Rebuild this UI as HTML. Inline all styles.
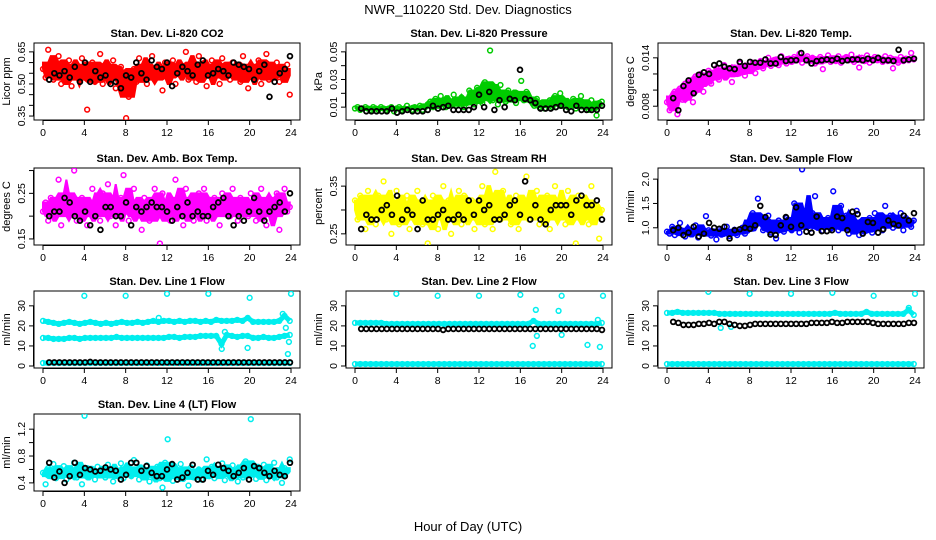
<!DOCTYPE html>
<html><head><meta charset="utf-8"><style>
html,body{margin:0;padding:0;background:#fff;}
svg{display:block;font-family:"Liberation Sans",Arial,sans-serif;}
</style></head><body>
<svg id="chart" width="936" height="540" viewBox="0 0 936 540" xmlns="http://www.w3.org/2000/svg">
<text x="468" y="14" font-size="13" text-anchor="middle">NWR_110220  Std. Dev. Diagnostics</text>
<text x="468" y="531" font-size="13" text-anchor="middle">Hour of Day (UTC)</text>
</svg>
<script>
// ---- data ----
const xTicks=[0,4,8,12,16,20,24];
const co2Color=[0.57,0.53,0.66,0.60,0.52,0.55,0.63,0.50,0.58,0.54,0.61,0.49,0.56,0.59,0.52,0.62,0.55,0.38,0.53,0.60,0.51,0.57,0.64,0.50,0.55,0.59,0.52,0.61,0.48,0.56,0.58,0.53,0.34,0.44,0.55,0.57,0.51,0.62,0.54,0.59,0.50,0.56,0.63,0.52,0.58,0.55,0.47,0.60,0.53,0.57,0.61,0.50,0.56,0.59,0.54,0.65,0.52,0.57,0.60,0.51,0.63,0.55,0.58,0.49,0.56,0.61,0.53,0.59,0.50,0.62,0.55,0.57,0.52,0.60,0.54,0.58,0.51,0.63,0.56,0.48,0.59,0.53,0.57,0.61,0.50,0.55,0.64,0.52,0.58,0.56,0.60,0.51,0.57,0.54,0.59,0.45];
const co2Black=[0.52,0.55,0.54,0.56,0.53,0.58,0.51,0.60,0.51,0.56,0.53,0.54,0.50,0.51,0.48,0.54,0.53,0.60,0.55,0.52,0.61,0.58,0.57,0.60,0.49,0.55,0.58,0.56,0.54,0.59,0.61,0.54,0.55,0.57,0.56,0.54,0.60,0.59,0.58,0.57,0.52,0.56,0.59,0.44,0.51,0.55,0.57,0.63];
const presColor=[0.009,0.010,0.008,0.009,0.010,0.009,0.008,0.010,0.009,0.008,0.010,0.009,0.008,0.009,0.010,0.007,0.009,0.010,0.008,0.009,0.011,0.009,0.008,0.010,0.009,0.011,0.008,0.010,0.012,0.014,0.010,0.016,0.011,0.018,0.013,0.010,0.015,0.012,0.019,0.011,0.014,0.017,0.010,0.013,0.022,0.015,0.012,0.024,0.017,0.013,0.028,0.019,0.051,0.015,0.021,0.012,0.026,0.018,0.014,0.022,0.016,0.020,0.013,0.019,0.029,0.015,0.021,0.017,0.014,0.011,0.016,0.010,0.013,0.009,0.012,0.015,0.010,0.018,0.013,0.020,0.011,0.014,0.010,0.012,0.016,0.009,0.011,0.018,0.013,0.010,0.008,0.015,0.011,0.004,0.013,0.014];
const presBlack=[0.009,0.007,0.007,0.007,0.007,0.007,0.009,0.006,0.007,0.008,0.007,0.007,0.007,0.008,0.011,0.009,0.010,0.011,0.008,0.008,0.008,0.008,0.010,0.019,0.010,0.021,0.008,0.015,0.010,0.016,0.015,0.037,0.016,0.015,0.013,0.009,0.009,0.009,0.010,0.011,0.008,0.007,0.011,0.008,0.008,0.008,0.008,0.011];
const tempColor=[0.0085,0.0075,0.0092,0.0098,0.0070,0.0102,0.0088,0.0108,0.0095,0.0112,0.0085,0.0117,0.0105,0.0120,0.0098,0.0115,0.0124,0.0108,0.0121,0.0127,0.0113,0.0122,0.0131,0.0117,0.0125,0.0110,0.0128,0.0120,0.0133,0.0125,0.0118,0.0130,0.0126,0.0134,0.0121,0.0129,0.0136,0.0127,0.0132,0.0140,0.0130,0.0135,0.0138,0.0131,0.0142,0.0136,0.0133,0.0139,0.0135,0.0141,0.0137,0.0145,0.0134,0.0139,0.0142,0.0136,0.0140,0.0133,0.0138,0.0141,0.0126,0.0137,0.0143,0.0135,0.0139,0.0136,0.0142,0.0134,0.0138,0.0141,0.0137,0.0144,0.0135,0.0139,0.0128,0.0140,0.0136,0.0143,0.0134,0.0138,0.0141,0.0137,0.0139,0.0135,0.0142,0.0136,0.0140,0.0127,0.0138,0.0134,0.0141,0.0136,0.0139,0.0137,0.0146,0.0138];
const tempBlack=[0.0090,0.0075,0.0105,0.0112,0.0096,0.0119,0.0122,0.0120,0.0131,0.0133,0.0129,0.0127,0.0126,0.0135,0.0130,0.0135,0.0134,0.0134,0.0138,0.0133,0.0133,0.0141,0.0136,0.0137,0.0137,0.0146,0.0137,0.0133,0.0136,0.0137,0.0138,0.0137,0.0139,0.0136,0.0137,0.0138,0.0138,0.0137,0.0139,0.0137,0.0140,0.0137,0.0137,0.0136,0.0150,0.0137,0.0138,0.0139];
const ambColor=[0.21,0.23,0.19,0.24,0.20,0.22,0.28,0.18,0.22,0.25,0.20,0.23,0.30,0.19,0.21,0.24,0.22,0.18,0.23,0.26,0.20,0.22,0.19,0.25,0.21,0.27,0.20,0.23,0.18,0.22,0.24,0.29,0.21,0.19,0.23,0.26,0.20,0.22,0.17,0.24,0.21,0.19,0.23,0.26,0.22,0.14,0.25,0.20,0.23,0.19,0.22,0.28,0.21,0.24,0.18,0.26,0.20,0.23,0.19,0.22,0.25,0.21,0.26,0.19,0.23,0.20,0.24,0.22,0.18,0.25,0.21,0.23,0.20,0.26,0.22,0.19,0.24,0.21,0.23,0.20,0.25,0.22,0.19,0.23,0.26,0.21,0.18,0.24,0.22,0.20,0.25,0.17,0.23,0.26,0.21,0.22];
const ambBlack=[0.20,0.21,0.21,0.24,0.23,0.20,0.19,0.21,0.18,0.20,0.17,0.22,0.22,0.20,0.20,0.23,0.18,0.22,0.21,0.22,0.23,0.22,0.22,0.21,0.19,0.22,0.20,0.23,0.20,0.21,0.20,0.20,0.22,0.23,0.24,0.20,0.18,0.20,0.19,0.21,0.24,0.21,0.19,0.21,0.22,0.23,0.21,0.25];
const rhColor=[0.32,0.28,0.33,0.30,0.26,0.34,0.29,0.31,0.27,0.33,0.30,0.36,0.28,0.32,0.25,0.30,0.34,0.27,0.31,0.29,0.33,0.26,0.31,0.28,0.34,0.30,0.27,0.32,0.23,0.29,0.33,0.31,0.26,0.30,0.35,0.28,0.32,0.25,0.31,0.29,0.34,0.27,0.33,0.30,0.28,0.32,0.26,0.31,0.29,0.35,0.27,0.33,0.30,0.26,0.38,0.31,0.28,0.34,0.29,0.32,0.27,0.30,0.33,0.26,0.31,0.29,0.37,0.28,0.32,0.30,0.34,0.27,0.31,0.29,0.33,0.26,0.30,0.35,0.28,0.32,0.30,0.27,0.34,0.29,0.31,0.23,0.33,0.28,0.30,0.32,0.27,0.35,0.29,0.31,0.24,0.30];
const rhBlack=[0.26,0.29,0.28,0.28,0.30,0.31,0.29,0.33,0.28,0.30,0.29,0.26,0.32,0.28,0.28,0.29,0.30,0.28,0.28,0.29,0.28,0.32,0.29,0.32,0.30,0.31,0.28,0.28,0.29,0.31,0.32,0.29,0.36,0.28,0.31,0.28,0.27,0.30,0.31,0.31,0.31,0.29,0.32,0.33,0.31,0.31,0.32,0.28];
const flowColor=[0.92,0.88,1.02,0.85,0.96,1.10,0.90,0.82,0.98,0.87,0.94,1.05,0.80,0.91,0.88,1.24,0.95,0.84,0.90,0.76,0.97,0.86,0.93,1.02,0.83,0.89,0.96,0.85,0.92,1.00,0.88,0.94,1.15,1.30,1.05,1.60,1.20,0.95,1.10,1.25,0.90,1.05,0.78,1.15,1.00,0.92,1.20,1.08,0.95,1.50,1.10,0.90,2.20,1.05,1.15,0.98,1.30,1.65,1.00,1.12,0.94,1.08,1.20,0.98,1.75,1.10,0.95,1.45,1.05,1.25,0.88,1.15,0.98,1.35,0.85,1.10,0.92,1.05,1.20,0.90,1.30,1.02,1.15,0.95,1.45,1.10,1.25,1.00,1.18,1.05,1.30,0.95,1.20,1.10,1.02,1.15];
const flowBlack=[0.95,1.00,0.85,0.90,1.02,0.82,0.88,1.10,1.00,0.98,1.02,0.78,0.95,0.97,1.00,0.98,1.05,1.45,1.22,0.86,0.85,1.05,1.22,1.02,1.42,1.05,0.92,0.90,1.23,0.93,0.93,0.95,1.23,1.20,0.95,1.33,1.28,0.88,1.12,1.10,0.90,0.97,1.15,1.08,1.05,1.25,1.15,1.30];
const line1Upper=[22.5,22,21.5,21,21.5,22,21.5,21,21.5,22,21.5,21,21.5,21,21.5,22,21.5,21.5,22,21.5,22,22.5,22,22.5,22.5,22,22.5,22,22.5,22.5,22,22.5,22,23,22.5,22.5,22.5,23,22.5,24,22,22,22,22,22,22.5,25,22.5];
const line1Mid=[14,14,13.5,13.5,13.5,14,14,13.5,14,14,14,14,14,14,14.5,14,14,14,14,14,14,14,14,14,14.5,14.5,14,14.5,14.5,14.5,15,15,15,15,11,15.5,15,14.5,15,15,14,14,14.5,14,14,14.5,15,15.5];
const line1Low=[1.5,1.5,1.5,1.5,1.5,1.5,1.5,1.5,1.5,1.5,1.5,1.5,1.5,1.5,1.5,1.5,1.5,1.5,1.5,1.5,1.5,1.5,1.5,1.5,1.5,1.5,1.5,1.5,1.5,1.5,1.5,1.5,1.5,1.5,1.5,1.5,1.5,1.5,1.5,1.5,1.5,1.5,1.5,1.5,1.5,1.5,1.5,1.5];
const line1Black=[1.8,1.8,1.8,1.8,1.8,1.8,1.8,1.8,2,1.8,1.8,1.8,1.8,1.8,1.8,1.8,1.8,1.8,1.8,1.8,1.8,1.8,1.8,1.8,1.8,1.8,1.8,1.8,1.8,1.8,1.8,1.8,1.8,1.8,1.8,1.8,1.8,1.8,1.8,1.8,1.8,1.8,1.8,1.8,1.8,1.8,1.8,1.8];
const line1OutHour=[4,8,12,16,20,23.7,19.8,17.3,24,23.2,23.5,23.8,17.6,11.2];
const line1OutVal=[35,35,36,36,34,6,9,8.5,36,26,19,12,17,24];
const line2Band=[21.5,21.5,21.5,21.5,21.5,21.5,21,21,21,21,21,21,21,21,21,21,21,21,21,21,21,21,21,21,21,21,21,21,21,21,21,21,21,21,22.5,21,21,21,21,21,21,21,21,21,21,21,21,21.5];
const line2Black=[18.5,18.5,18.5,18.5,18.5,18.5,18.5,18.5,18.5,18.5,18.5,18.5,18.5,18.5,18.5,18.5,18,18.5,18.5,18.5,18.5,18.5,18.5,18.5,18.5,18.5,18.5,18.5,18.5,18.5,18.5,18.5,18.5,18.5,18.5,18.5,18.5,18.5,18.5,18.5,18.5,18.5,18.5,18.5,18.5,18.5,18.5,18];
const line2Low=line1Low.map(v=>v-0.5);
const line2OutHour=[4,8,12,16,20,24,17.5,19.7,17.2,17.6,20,22.5,23.7,23.5];
const line2OutVal=[36,35,35,35.5,35,35,28,27.5,10,15,15.5,10.5,9.5,23];
const line3Upper=[26.5,26.5,27,26.5,26.5,26.5,26.5,26.5,26.5,26.5,26,26,26,26,26,26,26,26,26,26,26,26,26,26,26,26,26,26,26,26,26,26,26.5,26,26,26,26,26,27,26,26,26,26,26,26,26,28,25.5];
const line3Black=[22,21.5,20.5,20.5,20.5,21,21,21.5,21,22,22,21,20.5,20,20,20.5,21,21,21,21,21,21,21,21,21,21,21,21.5,21.5,21.5,21.5,22,21.5,21.5,22,22,22,22,22,21.5,21,21,21,21,21,21,21.5,21.5];
const line3Low=line1Low.map(v=>v-0.5);
const line3OutHour=[4,8,12,16,20,24,5.2,6.2,23.4];
const line3OutVal=[37,36,36,36.5,35,36,19,19.5,29];
const ltColor=[0.55,0.38,0.62,0.50,0.68,0.47,0.58,0.53,0.65,0.45,0.60,0.52,0.70,0.48,0.57,0.38,1.40,0.62,0.50,0.56,0.45,0.64,0.53,0.58,0.48,0.67,0.55,0.42,0.60,0.52,0.69,0.47,0.56,0.63,0.50,0.74,0.58,0.45,0.61,0.53,0.66,0.42,0.57,0.50,0.64,0.47,0.33,0.70,1.05,0.55,0.43,0.62,0.51,0.68,0.46,0.58,0.36,0.63,0.52,0.49,0.60,0.45,0.56,0.75,0.50,0.64,0.47,0.58,0.53,0.69,0.44,0.61,0.50,0.66,0.55,0.42,0.60,0.48,0.72,0.53,1.35,0.57,0.46,0.63,0.50,0.67,0.44,0.58,0.52,0.70,0.48,0.55,0.40,0.62,0.57,0.75];
const ltBlack=[0.70,0.48,0.57,0.40,0.50,0.70,0.52,0.62,0.60,0.57,0.58,0.63,0.60,0.58,0.45,0.52,0.70,0.70,0.58,0.65,0.55,0.50,0.50,0.60,0.68,0.45,0.48,0.55,0.67,0.45,0.45,0.58,0.52,0.67,0.62,0.58,0.50,0.55,0.62,0.45,0.65,0.62,0.55,0.50,0.58,0.52,0.50,0.70];

// ---- drawing ----
const svg=document.getElementById('chart');
const NS='http://www.w3.org/2000/svg';
function mk(tag,attrs,parent){const e=document.createElementNS(NS,tag);for(const k in attrs)e.setAttribute(k,attrs[k]);(parent||svg).appendChild(e);return e;}
const colL=[34,346,658], rowT=[43,168,291,414], W=266, H=77;
function panel(o){
  const L=colL[o.col],T=rowT[o.row],R=L+W,B=T+H;
  const g=mk('g',{});
  
  
  const xs=h=>L+9+h*(W-18)/24;
  const ys=v=>B-(v-o.ymin)/(o.ymax-o.ymin)*H;
  const t=mk('text',{x:(L+R)/2,y:T-6,'font-size':11,'font-weight':'bold','text-anchor':'middle'},g);t.textContent=o.title;
  
  
  const yt=mk('text',{x:L-24,y:(T+B)/2,'font-size':11,'text-anchor':'middle',transform:`rotate(-90 ${L-24} ${(T+B)/2})`},g);yt.textContent=o.ylab;
  
  
  xTicks.forEach(h=>{const x=xs(h);mk('line',{x1:x,x2:x,y1:B,y2:B+5,stroke:'#000'},g);
    const tx=mk('text',{x:x,y:B+16,'font-size':10.5,'text-anchor':'middle'},g);tx.textContent=h;
    
    });
  mk('line',{x1:xs(0),x2:xs(24),y1:B+0.5,y2:B+0.5,stroke:'#000'},g);
  o.yticks.forEach(v=>{const y=ys(v);mk('line',{x1:L-5,x2:L,y1:y,y2:y,stroke:'#000'},g);});
  mk('line',{x1:L-0.5,x2:L-0.5,y1:ys(o.yticks[0]),y2:ys(o.yticks[o.yticks.length-1]),stroke:'#000'},g);
  o.ylabels.forEach(v=>{const y=ys(v);const tl=mk('text',{x:L-9,y:y,'font-size':10.5,'text-anchor':'middle',transform:`rotate(-90 ${L-9} ${y})`},g);tl.textContent=o.fmt(v);
    
    });
  mk('rect',{x:L,y:T,width:W,height:H,fill:'none',stroke:'#000'},g);
  const clip='c'+o.col+o.row;const cp=mk('clipPath',{id:clip},g);mk('rect',{x:L,y:T,width:W,height:H},cp);
  const pg=mk('g',{'clip-path':`url(#${clip})`},g);
  function series(vals,hourFn,color,mode,nm){
    const sg=mk('g',{},pg);
    
    
    const pts=vals.map((v,i)=>[xs(hourFn(i,vals.length)),ys(v)]);
    if(mode==='band'){
      mk('polyline',{points:pts.map(p=>p.join(',')).join(' '),fill:'none',stroke:color,'stroke-width':5},sg);
    } else if(mode==='cloud'){
      // dense cloud envelope from local window of neighbouring values (2nd lowest / 2nd highest)
      const up=[],lo=[];
      vals.forEach((v,i)=>{const w=vals.slice(Math.max(0,i-3),i+4).slice().sort((a,b)=>a-b);
        lo.push([pts[i][0],ys(w[1])]);up.push([pts[i][0],ys(w[w.length-2])]);});
      const poly=up.concat(lo.reverse());
      mk('polygon',{points:poly.map(p=>p.join(',')).join(' '),fill:color,stroke:color,'stroke-width':2},sg);
    }
    pts.forEach(p=>{const c=mk('circle',{cx:p[0],cy:p[1],r:2.4,fill:'none',stroke:color,'stroke-width':mode==='black'?1.8:1.5},sg);
      
      });
  }
  const colorHour=(i,n)=>i*24/(n-1)*0.995;
  const blackHour=(i,n)=>0.6+i*23.3/(n-1);
  (o.color||[]).forEach(s=>series(s,colorHour,o.c,o.band?'band':'cloud','colored-series'));
  if(o.outH){o.outH.forEach((h,i)=>{const c=mk('circle',{cx:xs(h),cy:ys(o.outV[i]),r:2.4,fill:'none',stroke:o.c,'stroke-width':1.5},pg);
    
    });}
  (o.black||[]).forEach(s=>series(s,blackHour,'#000','black','black-series'));
}
const f2=v=>v.toFixed(2), f3=v=>v.toFixed(3), f1=v=>v.toFixed(1), f0=v=>String(v);
panel({name:'panel-co2',col:0,row:0,title:'Stan. Dev. Li-820 CO2',ylab:'Licor ppm',ymin:0.3315,ymax:0.6915,yticks:[0.35,0.40,0.45,0.50,0.55,0.60,0.65],ylabels:[0.35,0.50,0.65],fmt:f2,c:'#ff0000',color:[co2Color],black:[co2Black]});
panel({name:'panel-pressure',col:1,row:0,title:'Stan. Dev. Li-820 Pressure',ylab:'kPa',ymin:0.0007,ymax:0.0564,yticks:[0.01,0.02,0.03,0.04,0.05],ylabels:[0.01,0.03,0.05],fmt:f2,c:'#00cc00',color:[presColor],black:[presBlack]});
panel({name:'panel-temp',col:2,row:0,title:'Stan. Dev. Li-820 Temp.',ylab:'degrees C',ymin:0.00629,ymax:0.01584,yticks:[0.008,0.010,0.012,0.014],ylabels:[0.008,0.014],fmt:f3,c:'#ff00ff',color:[tempColor],black:[tempBlack]});
panel({name:'panel-amb-box-temp',col:0,row:1,title:'Stan. Dev. Amb. Box Temp.',ylab:'degrees C',ymin:0.1367,ymax:0.3056,yticks:[0.15,0.20,0.25,0.30],ylabels:[0.15,0.25],fmt:f2,c:'#ff00ff',color:[ambColor],black:[ambBlack]});
panel({name:'panel-gas-rh',col:1,row:1,title:'Stan. Dev. Gas Stream RH',ylab:'percent',ymin:0.2266,ymax:0.388,yticks:[0.25,0.30,0.35],ylabels:[0.25,0.35],fmt:f2,c:'#ffff00',color:[rhColor],black:[rhBlack]});
panel({name:'panel-sample-flow',col:2,row:1,title:'Stan. Dev. Sample Flow',ylab:'ml/min',ymin:0.646,ymax:2.229,yticks:[1.0,1.5,2.0],ylabels:[1.0,1.5,2.0],fmt:f1,c:'#0000ff',color:[flowColor],black:[flowBlack]});
panel({name:'panel-line1-flow',col:0,row:2,title:'Stan. Dev. Line 1 Flow',ylab:'ml/min',ymin:-1,ymax:37.4,yticks:[0,10,20,30],ylabels:[0,10,20,30],fmt:f0,c:'#00eeee',band:true,color:[line1Upper,line1Mid,line1Low],black:[line1Black],outH:line1OutHour,outV:line1OutVal});
panel({name:'panel-line2-flow',col:1,row:2,title:'Stan. Dev. Line 2 Flow',ylab:'ml/min',ymin:-1,ymax:37.4,yticks:[0,10,20,30],ylabels:[0,10,20,30],fmt:f0,c:'#00eeee',band:true,color:[line2Band,line2Low],black:[line2Black],outH:line2OutHour,outV:line2OutVal});
panel({name:'panel-line3-flow',col:2,row:2,title:'Stan. Dev. Line 3 Flow',ylab:'ml/min',ymin:-1,ymax:37.4,yticks:[0,10,20,30],ylabels:[0,10,20,30],fmt:f0,c:'#00eeee',band:true,color:[line3Upper,line3Low],black:[line3Black],outH:line3OutHour,outV:line3OutVal});
panel({name:'panel-line4-flow',col:0,row:3,title:'Stan. Dev. Line 4 (LT) Flow',ylab:'ml/min',ymin:0.279,ymax:1.426,yticks:[0.4,0.6,0.8,1.0,1.2],ylabels:[0.4,0.8,1.2],fmt:f1,c:'#00eeee',color:[ltColor],black:[ltBlack]});
</script>
</body></html>
